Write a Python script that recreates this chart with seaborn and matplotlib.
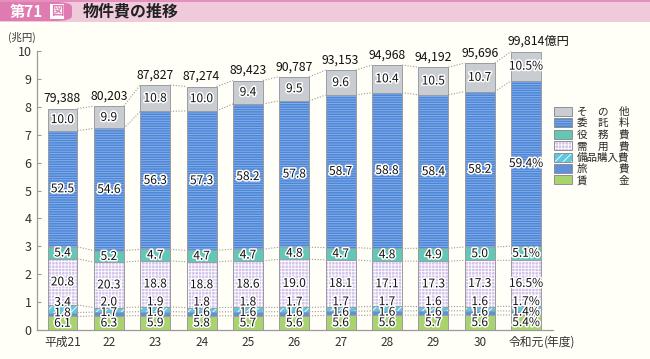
import numpy as np
import pandas as pd
import matplotlib
matplotlib.use('Agg')
import matplotlib.pyplot as plt
import matplotlib.patheffects as pe
from matplotlib.patches import Patch, Rectangle, FancyBboxPatch
import seaborn as sns

# Data (percent shares per year, totals in 億円)
years = ['平成21', '22', '23', '24', '25', '26', '27', '28', '29', '30', '令和元']
totals = [79388, 80203, 87827, 87274, 89423, 90787, 93153, 94968, 94192, 95696, 99814]
chingin = [6.1, 6.3, 5.9, 5.8, 5.7, 5.6, 5.6, 5.6, 5.7, 5.6, 5.4]
ryohi = [1.8, 1.7, 1.6, 1.6, 1.6, 1.6, 1.6, 1.6, 1.6, 1.6, 1.4]
bihin = [3.4, 2.0, 1.9, 1.8, 1.8, 1.7, 1.7, 1.7, 1.6, 1.6, 1.7]
juyo = [20.8, 20.3, 18.8, 18.8, 18.6, 19.0, 18.1, 17.1, 17.3, 17.3, 16.5]
ekimu = [5.4, 5.2, 4.7, 4.7, 4.7, 4.8, 4.7, 4.8, 4.9, 5.0, 5.1]
itaku = [52.5, 54.6, 56.3, 57.3, 58.2, 57.8, 58.7, 58.8, 58.4, 58.2, 59.4]
sonota = [10.0, 9.9, 10.8, 10.0, 9.4, 9.5, 9.6, 10.4, 10.5, 10.7, 10.5]

# Layers from bottom to top
layer_names = ['賃金', '旅費', '備品購入費', '需用費', '役務費', '委託料', 'その他']
layer_vals = [chingin, ryohi, bihin, juyo, ekimu, itaku, sonota]
legend_labels = ['賃\u3000\u3000\u3000金', '旅\u3000\u3000\u3000費', '備品購入費', '需\u3000用\u3000費',
                 '役\u3000務\u3000費', '委\u3000託\u3000料', 'そ\u3000の\u3000他']
face = ['#a9d36c', '#5f90d8', '#5fc8e0', '#d3c2ea', '#63c7b6', '#4d86d6', '#c9cdd2']
hatchc = ['#a9d36c', '#5f90d8', '#ffffff', '#ffffff', '#63c7b6', '#8db4ec', '#c9cdd2']
hatches = [None, None, '////', '+++++', None, '-------', None]

sns.set_theme(style='white')
plt.rcParams['font.family'] = ['Noto Sans CJK JP', 'DejaVu Sans']
plt.rcParams['hatch.linewidth'] = 0.6

bg = '#fffef7'
fig = plt.figure(figsize=(6.5, 3.59), dpi=100, facecolor=bg)
ax = fig.add_axes([37 / 650, 29 / 359, 516 / 650, 279 / 359])
ax.set_facecolor('none')

# cumulative heights in 兆円
tot_cho = np.array(totals) / 10000.0
pct = np.array(layer_vals)
cum = np.cumsum(pct, axis=0) / 100.0 * tot_cho
bot = np.vstack([np.zeros(len(years)), cum[:-1]])

width = 0.647
df = pd.DataFrame({'year': np.repeat([years], len(layer_names), axis=0).ravel(),
                   'layer': np.repeat(layer_names, len(years)),
                   'cum': cum.ravel()})

# draw cumulative bars top layer first so lower layers cover them
for k in range(len(layer_names) - 1, -1, -1):
    d = df[df['layer'] == layer_names[k]]
    sns.barplot(data=d, x='year', y='cum', order=years, color=face[k], saturation=1,
                width=width, edgecolor=hatchc[k], linewidth=0, hatch=hatches[k],
                errorbar=None, ax=ax, zorder=2)
for k in range(len(layer_names)):
    d = df[df['layer'] == layer_names[k]]
    sns.barplot(data=d, x='year', y='cum', order=years, fill=False, width=width,
                edgecolor='#9a9da3', linewidth=0.7, errorbar=None, ax=ax, zorder=3)

# dotted connectors between bars
xs = np.arange(len(years))
for k in range(len(layer_names)):
    for i in range(len(years) - 1):
        ax.plot([xs[i] + width / 2, xs[i + 1] - width / 2], [cum[k, i], cum[k, i + 1]],
                ls=(0, (1, 1.5)), color='#9a9a9a', lw=0.8, zorder=1)

# value labels
halo = [pe.withStroke(linewidth=2.2, foreground='white')]
for i in xs:
    suffix = '%' if i == len(years) - 1 else ''
    base = (bot[0, i] + cum[0, i]) / 2
    ys = [base, base + 0.375, base + 0.75]
    for k in range(3, 7):
        ys.append((bot[k, i] + cum[k, i]) / 2)
    for k in range(7):
        ax.text(i, ys[k], f'{pct[k, i]:.1f}{suffix}', ha='center', va='center', fontsize=8.6,
                color='#111111', path_effects=halo, zorder=5)
    if i == len(years) - 1:
        ax.annotate(f'{totals[i]:,}億円', xy=(i, cum[-1, i]), xytext=(9, 2.5),
                    textcoords='offset points', ha='center', va='bottom', fontsize=8.8,
                    color='#111111')
    else:
        ax.annotate(f'{totals[i]:,}', xy=(i, cum[-1, i]), xytext=(0, 2.5),
                    textcoords='offset points', ha='center', va='bottom', fontsize=8.8,
                    color='#111111')

ax.set_xlim(-0.55, 10.58)
ax.set_ylim(0, 10)
ax.set_yticks(range(0, 11))
ax.set_xlabel('')
ax.set_ylabel('')
for s in ['top', 'right']:
    ax.spines[s].set_visible(False)
for s in ['left', 'bottom']:
    ax.spines[s].set_color('#9a9a9a')
    ax.spines[s].set_linewidth(0.9)
ax.tick_params(axis='y', direction='in', length=3, width=0.8, color='#9a9a9a',
               labelsize=9, labelcolor='#333333', pad=4, left=True)
ax.tick_params(axis='x', length=0, labelsize=8.5, labelcolor='#333333', pad=4)
ax.text(-0.03, 1.03, '(兆円)', transform=ax.transAxes, ha='center', va='bottom', fontsize=7.5,
        color='#333333')
ax.text(10.38, -0.02, '(年度)', transform=ax.get_xaxis_transform(), ha='left', va='top',
        fontsize=8.5, color='#333333')

# legend
handles = [(Patch(facecolor=face[k], edgecolor=hatchc[k], hatch=hatches[k], lw=0),
            Patch(fill=False, edgecolor='#8d9096', lw=0.7)) for k in range(6, -1, -1)]
fig.legend(handles, legend_labels[::-1], loc='upper left', bbox_to_anchor=(554 / 650, 1 - 107 / 359),
           frameon=False, fontsize=7.6, handlelength=1.7, handleheight=0.95,
           labelspacing=0.1, handletextpad=0.45, borderpad=0, borderaxespad=0)

# header band
fig.patches.append(Rectangle((0, 1 - 22 / 359), 1, 22 / 359, transform=fig.transFigure,
                             facecolor='#eecadb', edgecolor='none', zorder=0))
fig.patches.append(Rectangle((0, 1 - 2 / 359), 1, 2 / 359, transform=fig.transFigure,
                             facecolor='#e58fbd', edgecolor='none', zorder=0))
fig.patches.append(FancyBboxPatch((-20 / 650, 1 - 21 / 359), 92 / 650, 19 / 359,
                                  boxstyle='round,pad=0,rounding_size=0.026',
                                  transform=fig.transFigure, facecolor='#e07bb1',
                                  edgecolor='none', zorder=0, mutation_aspect=359 / 650))
fig.text(10 / 650, 1 - 11.5 / 359, '第71', ha='left', va='center', fontsize=11,
         fontweight='bold', color='white')
fig.text(57 / 650, 1 - 11.5 / 359, '図', ha='center', va='center', fontsize=9,
         fontweight='bold', color='#e07bb1',
         bbox=dict(boxstyle='square,pad=0.08', facecolor='white', edgecolor='none'))
fig.text(83 / 650, 1 - 11.5 / 359, '物件費の推移', ha='left', va='center', fontsize=11.5,
         fontweight='bold', color='#222222')

fig.savefig('out.png', dpi=100, facecolor=bg)
